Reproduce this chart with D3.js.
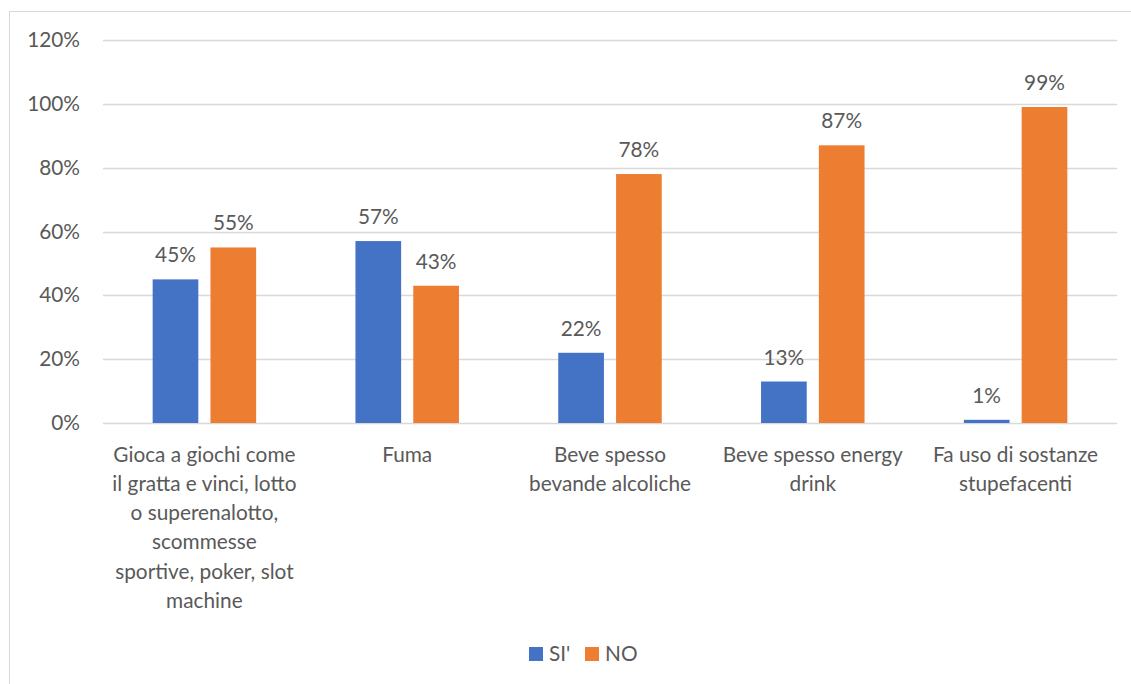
<!DOCTYPE html>
<html>
<head>
<meta charset="utf-8">
<script src="https://cdn.jsdelivr.net/npm/d3@7"></script>
<style>
  html, body { margin: 0; padding: 0; background: #fff; }
  svg { display: block; }
  text { font-family: Lato, "Open Sans", sans-serif; fill: #595959; }
</style>
</head>
<body>
<svg id="chart" width="1131" height="684"></svg>
<script>
// Categories and series
const categories = [
  ["Gioca a giochi come", "il gratta e vinci, lotto", "o superenalotto,", "scommesse", "sportive, poker, slot", "machine"],
  ["Fuma"],
  ["Beve spesso", "bevande alcoliche"],
  ["Beve spesso energy", "drink"],
  ["Fa uso di sostanze", "stupefacenti"]
];
const seriesNames = ["SI'", "NO"];
const siValues = [45, 57, 22, 13, 1];
const noValues = [55, 43, 78, 87, 99];
const yTicks = [0, 20, 40, 60, 80, 100, 120];
const colors = ["#4472C4", "#ED7D31"];

const svg = d3.select("#chart");
const W = 1131, H = 684;
const FS = 20.8;

// outer chart frame
svg.append("rect")
  .attr("x", 9.5).attr("y", 11.5)
  .attr("width", W + 20).attr("height", H + 20)
  .attr("fill", "none").attr("stroke", "#d9d9d9").attr("stroke-width", 1);

const plot = { left: 103, right: 1117, top: 40, bottom: 423 };

const x = d3.scaleBand()
  .domain(d3.range(categories.length))
  .range([plot.left, plot.right])
  .paddingInner(0).paddingOuter(0);

const inner = d3.scaleBand()
  .domain(seriesNames)
  .range([0, 103.5])
  .paddingInner(0.21);

const y = d3.scaleLinear().domain([0, 120]).range([plot.bottom, plot.top]);

// gridlines
svg.append("g")
  .selectAll("line")
  .data(yTicks)
  .join("line")
  .attr("x1", plot.left).attr("x2", plot.right)
  .attr("y1", d => Math.round(y(d)) + 0.5).attr("y2", d => Math.round(y(d)) + 0.5)
  .attr("stroke", "#d9d9d9").attr("stroke-width", 1.3);

// y axis labels
const yAxis = d3.axisLeft(y).tickValues(yTicks).tickFormat(d => d + "%").tickSize(0).tickPadding(0);
const yg = svg.append("g").attr("transform", `translate(80,0)`).call(yAxis);
yg.select(".domain").remove();
yg.selectAll("text")
  .attr("font-size", FS)
  .attr("font-family", "Lato, 'Open Sans', sans-serif")
  .attr("fill", "#595959");

// bars
const series = [siValues, noValues];
const groups = svg.append("g");
series.forEach((vals, si) => {
  const offset = (x.bandwidth() - 103.5) / 2;
  const g = groups.append("g");
  g.selectAll("rect")
    .data(vals)
    .join("rect")
    .attr("x", (d, i) => x(i) + offset + inner(seriesNames[si]))
    .attr("y", d => y(d))
    .attr("width", inner.bandwidth())
    .attr("height", d => y(0) - y(d))
    .attr("fill", colors[si]);
  g.selectAll("text")
    .data(vals)
    .join("text")
    .attr("x", (d, i) => x(i) + offset + inner(seriesNames[si]) + inner.bandwidth() / 2)
    .attr("y", d => y(d) - 17)
    .attr("text-anchor", "middle")
    .attr("font-size", FS)
    .text(d => d + "%");
});

// category labels
const xg = svg.append("g");
categories.forEach((lines, i) => {
  const t = xg.append("text")
    .attr("x", x(i) + x.bandwidth() / 2)
    .attr("y", 461.5)
    .attr("text-anchor", "middle")
    .attr("font-size", FS);
  lines.forEach((ln, k) => {
    t.append("tspan")
      .attr("x", x(i) + x.bandwidth() / 2)
      .attr("dy", k === 0 ? 0 : 29.3)
      .text(ln);
  });
});

// legend
const legend = svg.append("g").attr("transform", "translate(529,647)");
const legItems = [{ name: "SI'", x: 0 }, { name: "NO", x: 56 }];
legItems.forEach((it, i) => {
  legend.append("rect")
    .attr("x", it.x).attr("y", 0)
    .attr("width", 14).attr("height", 14)
    .attr("fill", colors[i]);
  legend.append("text")
    .attr("x", it.x + 20).attr("y", 14)
    .attr("font-size", FS)
    .text(it.name);
});
</script>
</body>
</html>
